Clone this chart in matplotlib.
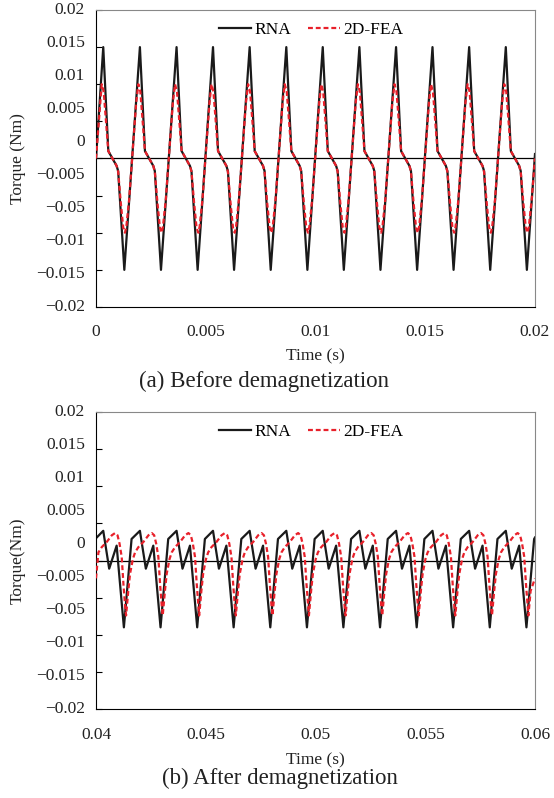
import matplotlib.pyplot as plt

plt.rcParams['font.family'] = ['Liberation Serif', 'DejaVu Serif']

# ======================
# DATA  (time in ms, torque in Nm)
# ======================
# (a) before demagnetization - RNA
t_rna_a = [0.00,
           0.33, 0.56, 0.94, 1.01, 1.29,
           2.00, 2.23, 2.61, 2.68, 2.96,
           3.67, 3.90, 4.28, 4.35, 4.63,
           5.33, 5.56, 5.94, 6.01, 6.29,
           7.00, 7.23, 7.61, 7.68, 7.96,
           8.67, 8.90, 9.28, 9.35, 9.63,
           10.33, 10.56, 10.94, 11.01, 11.29,
           12.00, 12.23, 12.61, 12.68, 12.96,
           13.67, 13.90, 14.28, 14.35, 14.63,
           15.33, 15.56, 15.94, 16.01, 16.29,
           17.00, 17.23, 17.61, 17.68, 17.96,
           18.67, 18.90, 19.28, 19.35, 19.63,
           20.00]
rna_a = [0.0,
         0.015, 0.001, -0.001, -0.0017, -0.015,
         0.015, 0.001, -0.001, -0.0017, -0.015,
         0.015, 0.001, -0.001, -0.0017, -0.015,
         0.015, 0.001, -0.001, -0.0017, -0.015,
         0.015, 0.001, -0.001, -0.0017, -0.015,
         0.015, 0.001, -0.001, -0.0017, -0.015,
         0.015, 0.001, -0.001, -0.0017, -0.015,
         0.015, 0.001, -0.001, -0.0017, -0.015,
         0.015, 0.001, -0.001, -0.0017, -0.015,
         0.015, 0.001, -0.001, -0.0017, -0.015,
         0.015, 0.001, -0.001, -0.0017, -0.015,
         0.015, 0.001, -0.001, -0.0017, -0.015,
         0.0006]

# (a) before demagnetization - 2D-FEA
t_fea_a = [0.00,
           0.26, 0.35, 0.47, 0.56, 0.94, 1.01, 1.13, 1.24, 1.32, 1.38, 1.51, 1.83,
           1.93, 2.02, 2.14, 2.23, 2.61, 2.68, 2.80, 2.91, 2.99, 3.05, 3.18, 3.50,
           3.60, 3.69, 3.81, 3.90, 4.28, 4.35, 4.47, 4.58, 4.66, 4.72, 4.85, 5.17,
           5.26, 5.35, 5.47, 5.56, 5.94, 6.01, 6.13, 6.24, 6.32, 6.38, 6.51, 6.83,
           6.93, 7.02, 7.14, 7.23, 7.61, 7.68, 7.80, 7.91, 7.99, 8.05, 8.18, 8.50,
           8.60, 8.69, 8.81, 8.90, 9.28, 9.35, 9.47, 9.58, 9.66, 9.72, 9.85, 10.17,
           10.26, 10.35, 10.47, 10.56, 10.94, 11.01, 11.13, 11.24, 11.32, 11.38, 11.51, 11.83,
           11.93, 12.02, 12.14, 12.23, 12.61, 12.68, 12.80, 12.91, 12.99, 13.05, 13.18, 13.50,
           13.60, 13.69, 13.81, 13.90, 14.28, 14.35, 14.47, 14.58, 14.66, 14.72, 14.85, 15.17,
           15.26, 15.35, 15.47, 15.56, 15.94, 16.01, 16.13, 16.24, 16.32, 16.38, 16.51, 16.83,
           16.93, 17.02, 17.14, 17.23, 17.61, 17.68, 17.80, 17.91, 17.99, 18.05, 18.18, 18.50,
           18.60, 18.69, 18.81, 18.90, 19.28, 19.35, 19.47, 19.58, 19.66, 19.72, 19.85,
           20.00]
fea_a = [0.0,
         0.0100, 0.0090, 0.0045, 0.0010, -0.0010, -0.0018, -0.0060, -0.0093, -0.0100, -0.0092, -0.0055, 0.0075,
         0.0100, 0.0090, 0.0045, 0.0010, -0.0010, -0.0018, -0.0060, -0.0093, -0.0100, -0.0092, -0.0055, 0.0075,
         0.0100, 0.0090, 0.0045, 0.0010, -0.0010, -0.0018, -0.0060, -0.0093, -0.0100, -0.0092, -0.0055, 0.0075,
         0.0100, 0.0090, 0.0045, 0.0010, -0.0010, -0.0018, -0.0060, -0.0093, -0.0100, -0.0092, -0.0055, 0.0075,
         0.0100, 0.0090, 0.0045, 0.0010, -0.0010, -0.0018, -0.0060, -0.0093, -0.0100, -0.0092, -0.0055, 0.0075,
         0.0100, 0.0090, 0.0045, 0.0010, -0.0010, -0.0018, -0.0060, -0.0093, -0.0100, -0.0092, -0.0055, 0.0075,
         0.0100, 0.0090, 0.0045, 0.0010, -0.0010, -0.0018, -0.0060, -0.0093, -0.0100, -0.0092, -0.0055, 0.0075,
         0.0100, 0.0090, 0.0045, 0.0010, -0.0010, -0.0018, -0.0060, -0.0093, -0.0100, -0.0092, -0.0055, 0.0075,
         0.0100, 0.0090, 0.0045, 0.0010, -0.0010, -0.0018, -0.0060, -0.0093, -0.0100, -0.0092, -0.0055, 0.0075,
         0.0100, 0.0090, 0.0045, 0.0010, -0.0010, -0.0018, -0.0060, -0.0093, -0.0100, -0.0092, -0.0055, 0.0075,
         0.0100, 0.0090, 0.0045, 0.0010, -0.0010, -0.0018, -0.0060, -0.0093, -0.0100, -0.0092, -0.0055, 0.0075,
         0.0100, 0.0090, 0.0045, 0.0010, -0.0010, -0.0018, -0.0060, -0.0093, -0.0100, -0.0092, -0.0055,
         0.0]

# (b) after demagnetization - RNA
t_rna_b = [40.00,
           40.33, 40.60, 40.94, 41.27, 41.62,
           42.00, 42.27, 42.61, 42.94, 43.29,
           43.67, 43.94, 44.28, 44.61, 44.96,
           45.33, 45.60, 45.94, 46.27, 46.62,
           47.00, 47.27, 47.61, 47.94, 48.29,
           48.67, 48.94, 49.28, 49.61, 49.96,
           50.33, 50.60, 50.94, 51.27, 51.62,
           52.00, 52.27, 52.61, 52.94, 53.29,
           53.67, 53.94, 54.28, 54.61, 54.96,
           55.33, 55.60, 55.94, 56.27, 56.62,
           57.00, 57.27, 57.61, 57.94, 58.29,
           58.67, 58.94, 59.28, 59.61, 59.96,
           60.00]
rna_b = [0.0030,
         0.0040, -0.0011, 0.0020, -0.0090, 0.0029,
         0.0040, -0.0011, 0.0020, -0.0090, 0.0029,
         0.0040, -0.0011, 0.0020, -0.0090, 0.0029,
         0.0040, -0.0011, 0.0020, -0.0090, 0.0029,
         0.0040, -0.0011, 0.0020, -0.0090, 0.0029,
         0.0040, -0.0011, 0.0020, -0.0090, 0.0029,
         0.0040, -0.0011, 0.0020, -0.0090, 0.0029,
         0.0040, -0.0011, 0.0020, -0.0090, 0.0029,
         0.0040, -0.0011, 0.0020, -0.0090, 0.0029,
         0.0040, -0.0011, 0.0020, -0.0090, 0.0029,
         0.0040, -0.0011, 0.0020, -0.0090, 0.0029,
         0.0040, -0.0011, 0.0020, -0.0090, 0.0029,
         0.0031]

# (b) after demagnetization - 2D-FEA
t_fea_b = [40.00,
           40.11, 40.26, 40.49, 40.72, 40.87, 40.98, 41.07, 41.17, 41.25, 41.33,
           41.37, 41.47, 41.55, 41.68, 41.78, 41.93, 42.16, 42.39, 42.54, 42.65, 42.74, 42.84, 42.92, 43.00,
           43.04, 43.14, 43.22, 43.35, 43.45, 43.60, 43.83, 44.06, 44.21, 44.32, 44.41, 44.51, 44.59, 44.67,
           44.70, 44.80, 44.88, 45.01, 45.11, 45.26, 45.49, 45.72, 45.87, 45.98, 46.07, 46.17, 46.25, 46.33,
           46.37, 46.47, 46.55, 46.68, 46.78, 46.93, 47.16, 47.39, 47.54, 47.65, 47.74, 47.84, 47.92, 48.00,
           48.04, 48.14, 48.22, 48.35, 48.45, 48.60, 48.83, 49.06, 49.21, 49.32, 49.41, 49.51, 49.59, 49.67,
           49.70, 49.80, 49.88, 50.01, 50.11, 50.26, 50.49, 50.72, 50.87, 50.98, 51.07, 51.17, 51.25, 51.33,
           51.37, 51.47, 51.55, 51.68, 51.78, 51.93, 52.16, 52.39, 52.54, 52.65, 52.74, 52.84, 52.92, 53.00,
           53.04, 53.14, 53.22, 53.35, 53.45, 53.60, 53.83, 54.06, 54.21, 54.32, 54.41, 54.51, 54.59, 54.67,
           54.70, 54.80, 54.88, 55.01, 55.11, 55.26, 55.49, 55.72, 55.87, 55.98, 56.07, 56.17, 56.25, 56.33,
           56.37, 56.47, 56.55, 56.68, 56.78, 56.93, 57.16, 57.39, 57.54, 57.65, 57.74, 57.84, 57.92, 58.00,
           58.04, 58.14, 58.22, 58.35, 58.45, 58.60, 58.83, 59.06, 59.21, 59.32, 59.41, 59.51, 59.59, 59.67,
           59.70, 59.80,
           60.00]
fea_b = [-0.0024,
         0.0011, 0.0018, 0.0025, 0.0034, 0.0037, 0.0034, 0.0023, 0.0005, -0.0032, -0.0063,
         -0.0074, -0.0041, -0.0018, 0.0002, 0.0011, 0.0018, 0.0025, 0.0034, 0.0037, 0.0034, 0.0023, 0.0005, -0.0032, -0.0063,
         -0.0074, -0.0041, -0.0018, 0.0002, 0.0011, 0.0018, 0.0025, 0.0034, 0.0037, 0.0034, 0.0023, 0.0005, -0.0032, -0.0063,
         -0.0074, -0.0041, -0.0018, 0.0002, 0.0011, 0.0018, 0.0025, 0.0034, 0.0037, 0.0034, 0.0023, 0.0005, -0.0032, -0.0063,
         -0.0074, -0.0041, -0.0018, 0.0002, 0.0011, 0.0018, 0.0025, 0.0034, 0.0037, 0.0034, 0.0023, 0.0005, -0.0032, -0.0063,
         -0.0074, -0.0041, -0.0018, 0.0002, 0.0011, 0.0018, 0.0025, 0.0034, 0.0037, 0.0034, 0.0023, 0.0005, -0.0032, -0.0063,
         -0.0074, -0.0041, -0.0018, 0.0002, 0.0011, 0.0018, 0.0025, 0.0034, 0.0037, 0.0034, 0.0023, 0.0005, -0.0032, -0.0063,
         -0.0074, -0.0041, -0.0018, 0.0002, 0.0011, 0.0018, 0.0025, 0.0034, 0.0037, 0.0034, 0.0023, 0.0005, -0.0032, -0.0063,
         -0.0074, -0.0041, -0.0018, 0.0002, 0.0011, 0.0018, 0.0025, 0.0034, 0.0037, 0.0034, 0.0023, 0.0005, -0.0032, -0.0063,
         -0.0074, -0.0041, -0.0018, 0.0002, 0.0011, 0.0018, 0.0025, 0.0034, 0.0037, 0.0034, 0.0023, 0.0005, -0.0032, -0.0063,
         -0.0074, -0.0041, -0.0018, 0.0002, 0.0011, 0.0018, 0.0025, 0.0034, 0.0037, 0.0034, 0.0023, 0.0005, -0.0032, -0.0063,
         -0.0074, -0.0041, -0.0018, 0.0002, 0.0011, 0.0018, 0.0025, 0.0034, 0.0037, 0.0034, 0.0023, 0.0005, -0.0032, -0.0063,
         -0.0074, -0.0041,
         -0.0024]

# axis ticks / labels (labels copied as printed, including the odd one)
xticks_a = [0, 0.005, 0.01, 0.015, 0.02]
xlabels_a = ['0', '0.005', '0.01', '0.015', '0.02']
xticks_b = [0.04, 0.045, 0.05, 0.055, 0.06]
xlabels_b = ['0.04', '0.045', '0.05', '0.055', '0.06']
yticks = [0.02, 0.015, 0.01, 0.005, 0, -0.005, -0.01, -0.015, -0.02]
ylabels = ['0.02', '0.015', '0.01', '0.005', '0', '\u22120.005', '\u22120.05',
           '\u22120.01', '\u22120.015', '\u22120.02']

panels = [
    dict(t_rna=t_rna_a, rna=rna_a, t_fea=t_fea_a, fea=fea_a,
         xticks=xticks_a, xlabels=xlabels_a, ylabel='Torque (Nm)',
         caption='(a) Before demagnetization', rect=[0.1733, 0.6153, 0.7924, 0.3722],
         cap_x=0.477, cap_y=0.522, tick_pad=12, label_pad=6),
    dict(t_rna=t_rna_b, rna=rna_b, t_fea=t_fea_b, fea=fea_b,
         xticks=xticks_b, xlabels=xlabels_b, ylabel='Torque(Nm)',
         caption='(b) After demagnetization', rect=[0.1733, 0.1115, 0.7924, 0.3722],
         cap_x=0.505, cap_y=0.024, tick_pad=13, label_pad=7),
]

# ======================
# PLOT
# ======================
fig = plt.figure(figsize=(5.54, 7.98), dpi=100)
fs = 12.5

for p in panels:
    ax = fig.add_axes(p['rect'])

    ax.axhline(0, color='black', linewidth=0.9, zorder=1)

    ax.plot([t / 1000 for t in p['t_rna']], p['rna'],
            color='#1a1a1a', linewidth=1.6, label='RNA', zorder=2)
    ax.plot([t / 1000 for t in p['t_fea']], p['fea'],
            color='#e8202a', linewidth=1.6, linestyle=(0, (2.2, 1.3)),
            label='2D-FEA', zorder=3)

    ax.set_xlim(p['xticks'][0], p['xticks'][-1])
    ax.set_ylim(-0.02, 0.02)

    ax.set_xticks(p['xticks'])
    ax.set_xticklabels(p['xlabels'], fontsize=fs, color='#222222')
    ax.tick_params(axis='x', length=0, pad=p['tick_pad'])

    ax.set_yticks(yticks)
    ax.set_yticklabels([])
    ax.tick_params(axis='y', direction='in', length=4, width=0.8)

    # printed y labels are spread evenly over the axis height
    for i, lab in enumerate(ylabels):
        ax.text(-0.025, 1 - i / (len(ylabels) - 1), lab, transform=ax.transAxes,
                ha='right', va='center', fontsize=fs, color='#222222')

    ax.text(-0.178, 0.5, p['ylabel'], transform=ax.transAxes, rotation=90,
            ha='center', va='center', fontsize=fs, color='#222222')

    ax.set_xlabel('Time (s)', fontsize=fs, color='#222222', labelpad=p['label_pad'])

    for side in ['top', 'right']:
        ax.spines[side].set_color('#888888')
    for side in ['left', 'bottom']:
        ax.spines[side].set_color('black')

    ax.legend(loc='upper center', bbox_to_anchor=(0.49, 1.0), ncol=2,
              frameon=False, fontsize=fs, handlelength=1.85,
              handletextpad=0.15, columnspacing=1.0, borderaxespad=0.3)

    fig.text(p['cap_x'], p['cap_y'], p['caption'], ha='center', va='center',
             fontsize=16.5, color='#222222')

plt.savefig('out.png', dpi=100)
